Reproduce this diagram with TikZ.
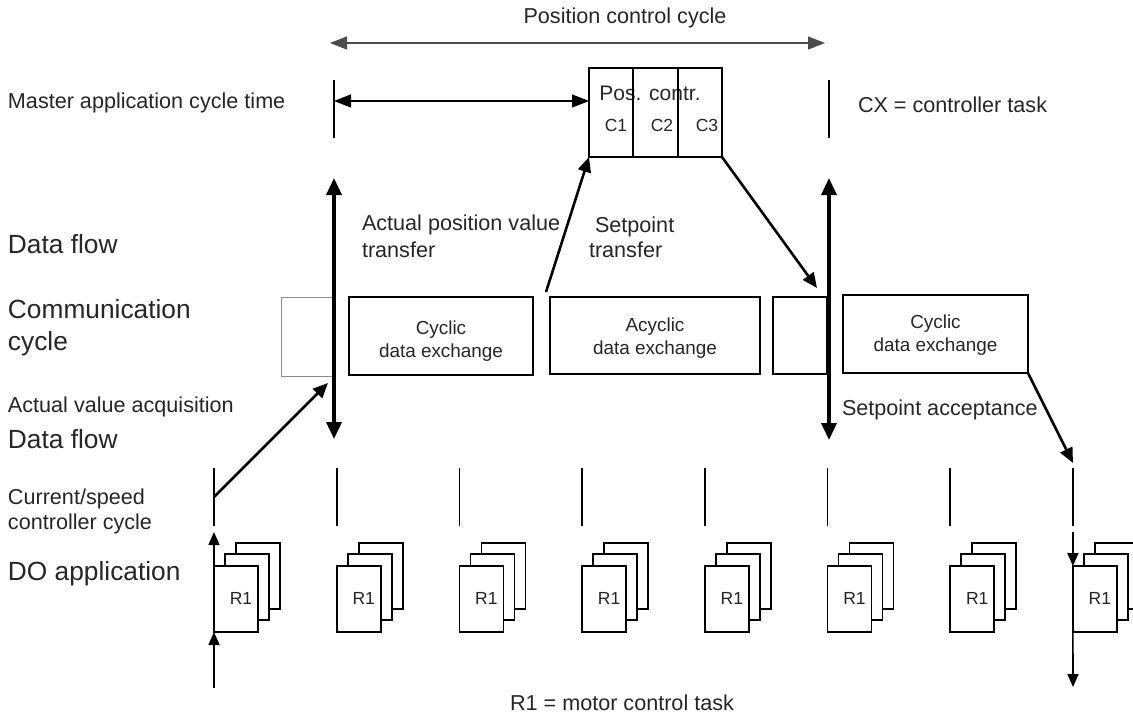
\documentclass[tikz,border=0pt]{standalone}
\usepackage{fontspec}
\setmainfont{Liberation Sans}
\usetikzlibrary{arrows.meta}

\begin{document}
\begin{tikzpicture}[x=1pt,y=-1pt,line width=1.8pt,
  every node/.style={inner sep=0pt,outer sep=0pt,text=black!85},
  biglbl/.style={font=\fontsize{26.3}{32}\selectfont,align=left,anchor=west},
  lbl/.style={font=\fontsize{21.6}{26}\selectfont,align=left,anchor=west},
  xbox/.style={draw,line width=1.8pt},
  xtext/.style={font=\fontsize{18.9}{23}\selectfont,align=center},
  cell/.style={draw,line width=2pt,minimum height=89pt},
  task/.style={draw,fill=white,line width=1.8pt,minimum width=44pt,minimum height=66pt},
  tasklbl/.style={font=\fontsize{17.5}{20}\selectfont},
  flow/.style={line width=3.6pt,{Triangle[length=17pt,width=15pt]}-{Triangle[length=17pt,width=15pt]}},
  pass/.style={line width=2.6pt,-{Triangle[length=15pt,width=13pt]}},
  span/.style={line width=1.3pt,{Triangle[length=17pt,width=13pt]}-{Triangle[length=17pt,width=13pt]}},
  vline/.style={line width=1.6pt,-{Triangle[length=13pt,width=11pt]}}]
\useasboundingbox (0,0) rectangle (1133,716);

\node (pcc) at (625,18) [font=\fontsize{21.6}{26}\selectfont] {Position control cycle};
\coordinate (pcl) at (330,43);
\coordinate (pcr) at (825,43);
\draw[span,draw=black!70] (pcl) -- (pcr);

\node (mact) at (8,103) [lbl] {Master application cycle time};
\node (cx) at (858,105) [lbl] {CX = controller task};
\draw (334,80) -- (334,138);
\draw (829,80) -- (829,138);
\node (pos) at (650,93) [font=\fontsize{21}{25}\selectfont] {Pos. contr.};
\node (c1) at (611,112.5) [cell,minimum width=44pt] {};
\node (c2) at (655.5,112.5) [cell,minimum width=45pt] {};
\node (c3) at (700,112.5) [cell,minimum width=44pt] {};
\node (c1l) at (616,125) [tasklbl] {C1};
\node (c2l) at (662,125) [tasklbl] {C2};
\node (c3l) at (707,125) [tasklbl] {C3};
\coordinate (mal) at (334,101);
\coordinate (mar) at (589,101);
\draw[span] (mal) -- (mar);

\node (df1) at (8,244) [biglbl] {Data flow};
\node (cc) at (8,328) [biglbl] {Communication\\cycle};
\node (ava) at (8,407) [lbl] {Actual value acquisition};
\node (df2) at (8,439) [biglbl] {Data flow};
\node (cs) at (8,511) [lbl,font=\fontsize{21.6}{25}\selectfont] {Current/speed\\controller cycle};
\node (doa) at (8,574) [biglbl] {DO application};

\node (apv) at (362,236.5) [lbl,font=\fontsize{21.6}{27}\selectfont] {Actual position value\\transfer};
\node (spt) at (589,237.5) [lbl,font=\fontsize{21.6}{25.5}\selectfont] {~Setpoint\\transfer};
\node (spa) at (842,410) [lbl] {Setpoint acceptance};

\node (gbox) at (307.5,336.5) [draw=black!45,line width=1pt,minimum width=53pt,minimum height=79pt] {};
\node (cyc1) at (441,336) [xbox,minimum width=184pt,minimum height=78pt] {};
\node (acyc) at (655,335.5) [xbox,minimum width=210pt,minimum height=77pt] {};
\node (sbox) at (800,335.5) [xbox,minimum width=54pt,minimum height=77pt] {};
\node (cyc2) at (935.5,334) [xbox,minimum width=185pt,minimum height=78pt] {};
\node (cyc1t) at (441,341) [xtext] {Cyclic\\data exchange};
\node (acyct) at (655,338.5) [xtext] {Acyclic\\data exchange};
\node (cyc2t) at (935.5,335.5) [xtext] {Cyclic\\data exchange};

\coordinate (fl1t) at (334,178);
\coordinate (fl1b) at (334,439);
\coordinate (fl2t) at (829,178);
\coordinate (fl2b) at (829,440);
\draw[flow] (fl1t) -- (fl1b);
\draw[flow] (fl2t) -- (fl2b);

\foreach \i in {0,...,7}{
  \pgfmathsetmacro\xx{214+122.7*\i}
  \draw[line width=1.6pt] (\xx,468) -- (\xx,526);
  \coordinate (tk\i) at (\xx,497);
  \node (b\i) at (\xx+44,576) [task] {};
  \node (m\i) at (\xx+33,587) [task] {};
  \node (f\i) at (\xx+22,599) [task] {};
  \node (r\i) at (\xx+27,598) [tasklbl] {R1};
}

\coordinate (avt) at (328,383);
\coordinate (apb) at (546,292);
\coordinate (spe) at (817,288);
\coordinate (sae) at (1073,463);
\draw[pass] (tk0) -- (avt);
\draw[pass] (apb) -- (c1.south west);
\draw[pass] (c3.south east) -- (spe);
\draw[pass] (cyc2.south east) -- (sae);

\coordinate (inb) at (214,688);
\coordinate (int) at (214,532);
\coordinate (outt) at (1073,532);
\coordinate (outb) at (1073,687);
\draw[vline] (inb) -- (f0.south west);
\draw[vline] (f0.south west) -- (int);
\draw[vline] (outt) -- (f7.north west);
\draw[vline] (f7.south west) -- (outb);

\node (r1t) at (622,703) [font=\fontsize{21.6}{26}\selectfont] {R1 = motor control task};
\end{tikzpicture}
\end{document}
